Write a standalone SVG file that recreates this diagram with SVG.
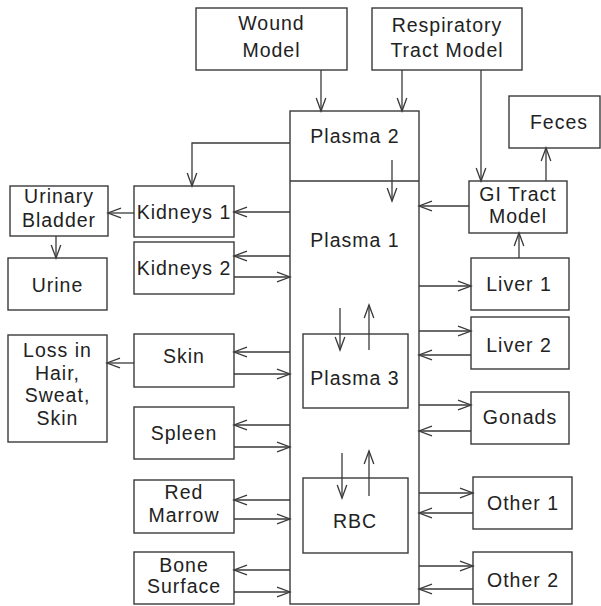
<svg xmlns="http://www.w3.org/2000/svg" width="601" height="606" viewBox="0 0 601 606">
<style>
rect{fill:#fff;stroke:#3a3a3a;stroke-width:1.4}
text{font-family:"Liberation Sans",Arial,sans-serif;font-size:19.5px;fill:#222;text-anchor:middle;letter-spacing:1px}
.c path,.c line{fill:none;stroke:#3a3a3a;stroke-width:1.3;marker-end:url(#a)}
.d{stroke:#3a3a3a;stroke-width:1.3}
</style>
<defs>
<marker id="a" markerUnits="userSpaceOnUse" markerWidth="18" markerHeight="12" viewBox="-15 -6 17 12" refX="0" refY="0" orient="auto">
<path d="M-13,-4.8 L0,0 L-13,4.8" fill="none" stroke="#3a3a3a" stroke-width="1.3"/>
</marker>
</defs>
<rect x="0" y="0" width="601" height="606" style="stroke:none"/>
<g id="plasma"><rect x="290" y="111" width="129" height="493"/><line class="d" x1="290" y1="181" x2="419" y2="181"/>
<text x="355" y="143">Plasma 2</text><text x="355" y="247">Plasma 1</text></g>
<g id="plasma3"><rect x="303" y="334" width="105" height="74"/><text x="355" y="385">Plasma 3</text></g>
<g id="rbc"><rect x="303" y="478" width="105" height="75"/><text x="355" y="528">RBC</text></g>
<g id="wound"><rect x="196" y="8" width="151" height="62"/><text x="271.5" y="30">Wound</text><text x="271.5" y="57">Model</text></g>
<g id="resp"><rect x="372" y="8" width="150" height="62"/><text x="447" y="32">Respiratory</text><text x="447" y="57">Tract Model</text></g>
<g id="feces"><rect x="509" y="96" width="91" height="52"/><text x="559" y="129">Feces</text></g>
<g id="gi"><rect x="469" y="181" width="98" height="52"/><text x="518" y="201">GI Tract</text><text x="518" y="223">Model</text></g>
<g id="liver1"><rect x="471" y="258" width="98" height="52"/><text x="519" y="291">Liver 1</text></g>
<g id="liver2"><rect x="471" y="317" width="98" height="52"/><text x="519" y="352">Liver 2</text></g>
<g id="gonads"><rect x="471" y="392" width="98" height="52"/><text x="520" y="424">Gonads</text></g>
<g id="other1"><rect x="473" y="477" width="99" height="52"/><text x="523" y="510">Other 1</text></g>
<g id="other2"><rect x="473" y="552" width="99" height="52"/><text x="523" y="587">Other 2</text></g>
<g id="bladder"><rect x="10" y="186" width="98" height="50"/><text x="59" y="203">Urinary</text><text x="59" y="227">Bladder</text></g>
<g id="kidneys1"><rect x="134" y="186" width="100" height="51"/><text x="184" y="219">Kidneys 1</text></g>
<g id="urine"><rect x="8" y="258" width="99" height="52"/><text x="57.5" y="292">Urine</text></g>
<g id="kidneys2"><rect x="134" y="242" width="100" height="52"/><text x="184" y="275">Kidneys 2</text></g>
<g id="loss"><rect x="8" y="335" width="99" height="107"/><text x="57.5" y="357">Loss in</text><text x="57.5" y="380">Hair,</text><text x="57.5" y="402">Sweat,</text><text x="57.5" y="425">Skin</text></g>
<g id="skin"><rect x="134" y="334" width="100" height="53"/><text x="184" y="363">Skin</text></g>
<g id="spleen"><rect x="134" y="407" width="100" height="52"/><text x="184" y="440">Spleen</text></g>
<g id="marrow"><rect x="134" y="480" width="100" height="53"/><text x="184" y="499">Red</text><text x="184" y="522">Marrow</text></g>
<g id="bone"><rect x="134" y="552" width="100" height="52"/><text x="184" y="572">Bone</text><text x="184" y="593">Surface</text></g>
<g id="connectors" class="c">
<line x1="321" y1="70" x2="321" y2="111"/>
<line x1="402" y1="70" x2="402" y2="111"/>
<line x1="481" y1="70" x2="481" y2="181"/>
<line x1="546" y1="181" x2="546" y2="148"/>
<line x1="392" y1="160" x2="392" y2="201"/>
<line x1="469" y1="206" x2="419" y2="206"/>
<line x1="519" y1="258" x2="519" y2="233"/>
<line x1="419" y1="286" x2="471" y2="286"/>
<line x1="419" y1="331" x2="471" y2="331"/>
<line x1="471" y1="355" x2="419" y2="355"/>
<line x1="419" y1="405" x2="471" y2="405"/>
<line x1="471" y1="431" x2="419" y2="431"/>
<line x1="419" y1="493" x2="473" y2="493"/>
<line x1="473" y1="513" x2="419" y2="513"/>
<line x1="419" y1="566" x2="473" y2="566"/>
<line x1="473" y1="589" x2="419" y2="589"/>
<line x1="340" y1="308" x2="340" y2="350"/>
<line x1="369" y1="350" x2="369" y2="305"/>
<line x1="342" y1="453" x2="342" y2="498"/>
<line x1="369" y1="496" x2="369" y2="451"/>
<path d="M290,143 H192 V186"/>
<line x1="290" y1="212" x2="234" y2="212"/>
<line x1="134" y1="213" x2="108" y2="213"/>
<line x1="56" y1="236" x2="56" y2="258"/>
<line x1="290" y1="256" x2="234" y2="256"/>
<line x1="234" y1="277" x2="290" y2="277"/>
<line x1="290" y1="352" x2="234" y2="352"/>
<line x1="234" y1="374" x2="290" y2="374"/>
<line x1="134" y1="363" x2="107" y2="363"/>
<line x1="290" y1="425" x2="234" y2="425"/>
<line x1="234" y1="447" x2="290" y2="447"/>
<line x1="290" y1="500" x2="234" y2="500"/>
<line x1="234" y1="519" x2="290" y2="519"/>
<line x1="290" y1="570" x2="234" y2="570"/>
<line x1="234" y1="592" x2="290" y2="592"/>
</g>
</svg>
